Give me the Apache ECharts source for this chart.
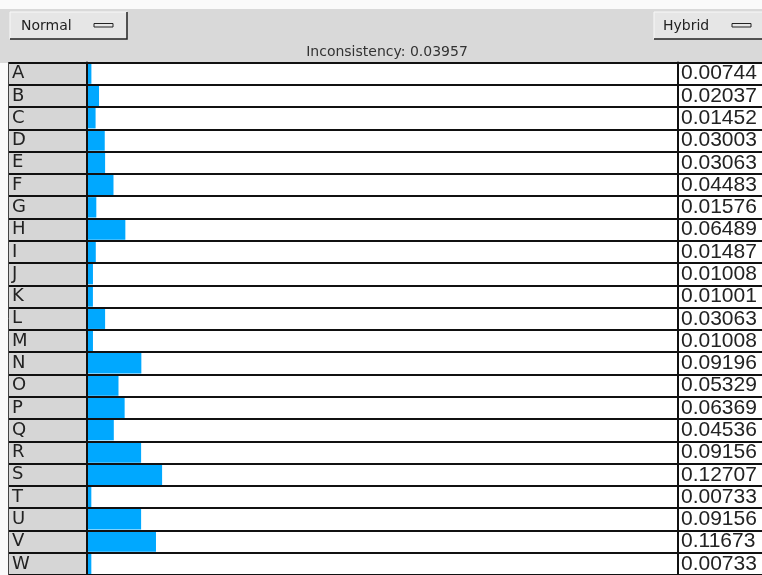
<!DOCTYPE html>
<html>
<head>
<meta charset="utf-8">
<script src="https://cdn.jsdelivr.net/npm/echarts@6/dist/echarts.min.js"></script>
<style>
html,body{margin:0;padding:0;background:#fafafa;}
#chart{width:762px;height:575px;}
</style>
</head>
<body>
<div id="chart"></div>
<script>
var categories = ['A','B','C','D','E','F','G','H','I','J','K','L','M','N','O','P','Q','R','S','T','U','V','W'];
var values = [0.00744,0.02037,0.01452,0.03003,0.03063,0.04483,0.01576,0.06489,0.01487,0.01008,0.01001,0.03063,0.01008,0.09196,0.05329,0.06369,0.04536,0.09156,0.12707,0.00733,0.09156,0.11673,0.00733];
var inconsistency = 0.03957;
var leftMode = 'Normal';
var rightMode = 'Hybrid';

var chart = echarts.init(document.getElementById('chart'), null, {renderer:'canvas'});

var TOP = 62.5, ROWS_H = 22.4 * categories.length;
var lineStyle = {color:'#111', width:2};

function yAxisFor(gridIndex, opts){
  return Object.assign({
    type:'category', data:categories, inverse:true, gridIndex:gridIndex, z:3,
    axisTick:{show:false, interval:0},
    splitLine:{show:true, interval:0, lineStyle:lineStyle},
    axisLine:{show:true, lineStyle:lineStyle},
    axisLabel:{show:false, interval:0}
  }, opts);
}

var option = {
  backgroundColor:'#fafafa',
  animation:false,
  grid:[
    {left:8, width:79, top:TOP, height:ROWS_H, show:true, backgroundColor:'#d6d6d6', borderWidth:0},
    {left:87, width:591, top:TOP, height:ROWS_H, show:true, backgroundColor:'#ffffff', borderWidth:0},
    {left:678, width:100, top:TOP, height:ROWS_H, show:true, backgroundColor:'#ffffff', borderWidth:0}
  ],
  xAxis:[
    {type:'value', gridIndex:0, min:0, max:1, show:false},
    {type:'value', gridIndex:1, min:0, max:1, show:false},
    {type:'value', gridIndex:2, min:0, max:1, show:false}
  ],
  yAxis:[
    yAxisFor(0, {
      axisLine:{show:true, lineStyle:{color:'#444', width:1}},
      axisLabel:{show:true, interval:0, inside:true, margin:4, color:'#222', fontFamily:'DejaVu Sans', fontSize:18, verticalAlign:'middle', padding:[3,0,0,0]}
    }),
    yAxisFor(1, {}),
    yAxisFor(2, {
      axisLabel:{show:true, interval:0, inside:true, margin:3, color:'#222', fontFamily:'Liberation Sans', fontSize:21, verticalAlign:'middle', padding:[2,0,0,0],
        formatter:function(v, i){ return values[i].toFixed(5); }}
    })
  ],
  series:[{
    type:'bar', xAxisIndex:1, yAxisIndex:1, data:values,
    barWidth:20.4, itemStyle:{color:'#00a8ff'}, silent:true
  }],
  graphic:[
    {type:'rect', shape:{x:0, y:9, width:762, height:54}, style:{fill:'#d9d9d9'}, z:-1},
    // left button
    {type:'rect', shape:{x:10, y:12, width:117, height:27}, style:{fill:'#e6e6e6'}},
    {type:'polyline', shape:{points:[[10,39],[10,12],[127,12]]}, style:{stroke:'#f8f8f8', lineWidth:1, fill:null}},
    {type:'polyline', shape:{points:[[10,39],[127,39],[127,12]]}, style:{stroke:'#222', lineWidth:1.5, fill:null}},
    {type:'text', x:21, y:26, style:{text:leftMode, fill:'#222', font:'14px "DejaVu Sans"', verticalAlign:'middle'}},
    {type:'rect', shape:{x:94, y:23.5, width:19, height:3.5}, style:{fill:'#e6e6e6', stroke:'#222', lineWidth:1}},
    // right button
    {type:'rect', shape:{x:654, y:12, width:110, height:27}, style:{fill:'#e6e6e6'}},
    {type:'polyline', shape:{points:[[654,39],[654,12],[762,12]]}, style:{stroke:'#f8f8f8', lineWidth:1, fill:null}},
    {type:'polyline', shape:{points:[[654,39],[762,39]]}, style:{stroke:'#222', lineWidth:1.5, fill:null}},
    {type:'text', x:663, y:26, style:{text:rightMode, fill:'#222', font:'14px "DejaVu Sans"', verticalAlign:'middle'}},
    {type:'rect', shape:{x:732, y:23.5, width:19, height:3.5}, style:{fill:'#e6e6e6', stroke:'#222', lineWidth:1}},
    // status text
    {type:'text', x:387, y:52, style:{text:'Inconsistency: ' + inconsistency.toFixed(5), fill:'#333', font:'14px "DejaVu Sans"', align:'center', verticalAlign:'middle'}}
  ]
};
chart.setOption(option);
</script>
</body>
</html>
